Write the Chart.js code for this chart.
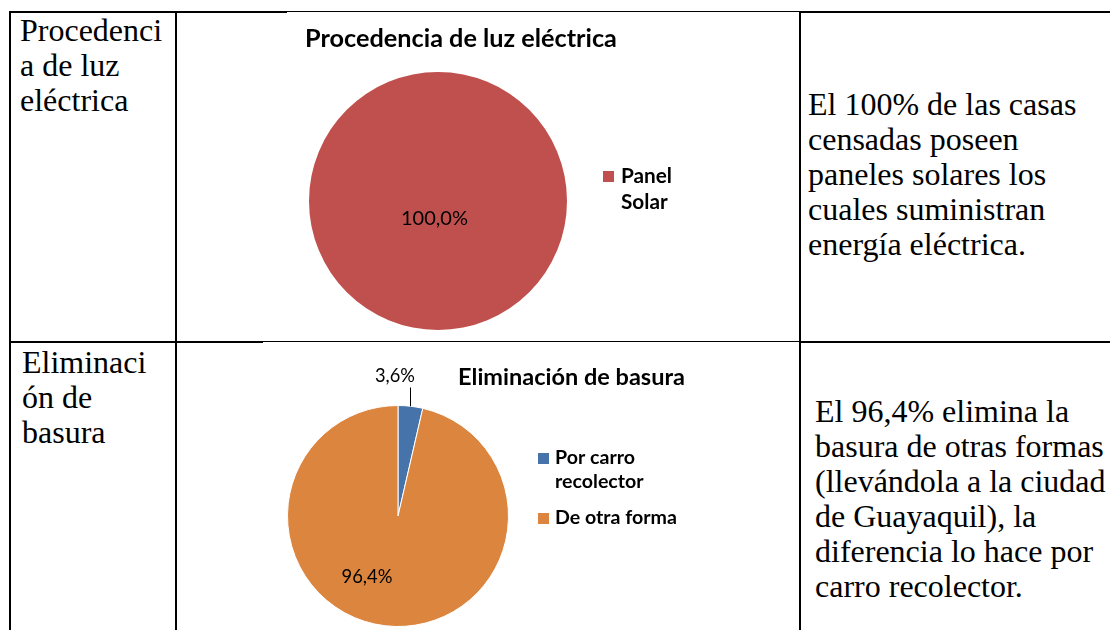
<!DOCTYPE html>
<html><head><meta charset="utf-8">
<script src="https://cdn.jsdelivr.net/npm/chart.js@4.4.0/dist/chart.umd.min.js"></script>
<style>
html,body{margin:0;padding:0;background:#fff;width:1110px;height:630px;overflow:hidden;}
body{position:relative;}
.ln{position:absolute;background:#000;}
.txt{position:absolute;font-family:"Liberation Serif","Times New Roman",serif;font-size:32px;line-height:35px;color:#000;white-space:nowrap;}
canvas{position:absolute;}
</style></head><body>
<!-- table borders -->
<div class="ln" style="left:9px;top:11px;width:278px;height:2px"></div>
<div class="ln" style="left:287px;top:11px;width:513px;height:1px"></div>
<div class="ln" style="left:800px;top:11px;width:310px;height:2px"></div>
<div class="ln" style="left:9px;top:11px;width:2px;height:619px"></div>
<div class="ln" style="left:175px;top:11px;width:2px;height:619px"></div>
<div class="ln" style="left:799px;top:11px;width:2px;height:619px"></div>
<div class="ln" style="left:9px;top:341px;width:254px;height:2px"></div>
<div class="ln" style="left:263px;top:341px;width:537px;height:1px"></div>
<div class="ln" style="left:800px;top:341px;width:310px;height:2px"></div>

<div class="txt" id="t1" style="left:20px;top:13px"></div>
<div class="txt" id="t2" style="left:22px;top:345px"></div>
<div class="txt" id="t3" style="left:808px;top:87px"></div>
<div class="txt" id="t4" style="left:815px;top:394px"></div>

<canvas id="c1" width="622" height="328" style="left:177px;top:13px;width:622px;height:328px"></canvas>
<canvas id="c2" width="622" height="287" style="left:177px;top:343px;width:622px;height:287px"></canvas>

<script>
// ---------- data ----------
const luzTitle = "Procedencia de luz eléctrica";
const luzCategories = [["Panel", "Solar"]];
const luzValues = [100.0];
const luzColors = ["#C0504D"];

const basuraTitle = "Eliminación de basura";
const basuraCategories = [["Por carro", "recolector"], ["De otra forma"]];
const basuraValues = [3.6, 96.4];
const basuraColors = ["#4673A9", "#DC853E"];

const leftTexts1 = ["Procedenci", "a de luz", "eléctrica"];
const leftTexts2 = ["Eliminaci", "ón de", "basura"];
const rightTexts1 = ["El 100% de las casas", "censadas poseen", "paneles solares los", "cuales suministran", "energía eléctrica."];
const rightTexts2 = ["El 96,4% elimina la", "basura de otras formas", "(llevándola a la ciudad", "de Guayaquil), la", "diferencia lo hace por", "carro recolector."];

function setLines(id, lines){ document.getElementById(id).innerHTML = lines.map(s => s.replace(/&/g,'&amp;').replace(/</g,'&lt;')).join('<br>'); }
setLines('t1', leftTexts1); setLines('t2', leftTexts2);
setLines('t3', rightTexts1); setLines('t4', rightTexts2);

const FONT = 'Lato, "Open Sans", "Liberation Sans", sans-serif';
function fmt(v){ return v.toFixed(1).replace('.', ',') + '%'; }
function fitSize(ctx, text, weight, width){
  ctx.font = `${weight} 100px ${FONT}`;
  return 100 * width / ctx.measureText(text).width;
}

const decor = {
  id: 'decor',
  afterDatasetsDraw(chart, args, o) {
    const ctx = chart.ctx;
    const meta = chart.getDatasetMeta(0);
    const ds = chart.data.datasets[0];
    ctx.save();
    ctx.textBaseline = 'middle';
    // title
    const ts = fitSize(ctx, o.title, 'bold', o.titleW);
    ctx.font = `bold ${ts}px ${FONT}`;
    ctx.fillStyle = '#000';
    ctx.textAlign = 'center';
    ctx.fillText(o.title, o.titleX, o.titleY);
    // legend
    const ls = fitSize(ctx, o.legendRef, 'bold', o.legendRefW);
    ctx.font = `bold ${ls}px ${FONT}`;
    ctx.textAlign = 'left';
    let y = o.legendY;
    chart.data.labels.forEach((lab, i) => {
      const lines = Array.isArray(lab) ? lab : [lab];
      ctx.fillStyle = ds.backgroundColor[i];
      ctx.fillRect(o.legendX, Math.round(y - o.box/2), o.box, o.box);
      ctx.fillStyle = '#000';
      lines.forEach((t, j) => ctx.fillText(t, o.legendX + o.box + o.gap, y + j*o.lineH));
      y += lines.length*o.lineH + o.itemGap;
    });
    // data labels
    meta.data.forEach((arc, i) => {
      const p = arc.getProps(['x','y','startAngle','endAngle','outerRadius'], true);
      const spec = o.labels[i];
      const txt = fmt(ds.data[i]);
      const s = fitSize(ctx, txt, 'normal', spec.w);
      ctx.font = `${s}px ${FONT}`;
      ctx.fillStyle = '#000';
      ctx.textAlign = 'center';
      if (spec.lead) {
        const mid = (p.startAngle + p.endAngle)/2;
        const ex = p.x + p.outerRadius*Math.cos(mid), ey = p.y + p.outerRadius*Math.sin(mid);
        const ly = p.y - p.outerRadius - spec.lead;
        ctx.strokeStyle = '#000'; ctx.lineWidth = 1;
        ctx.beginPath(); ctx.moveTo(Math.round(ex)+0.5, ey); ctx.lineTo(Math.round(ex)+0.5, ly); ctx.stroke();
      }
      ctx.fillText(txt, p.x + spec.dx, p.y + spec.dy);
    });
    ctx.restore();
  }
};

function makePie(id, labels, values, colors, bw, padding, deco){
  return new Chart(document.getElementById(id), {
    type: 'pie',
    data: { labels: labels, datasets: [{ data: values, backgroundColor: colors, borderWidth: bw, borderColor: '#fff' }] },
    options: {
      responsive: false, animation: false, devicePixelRatio: 1, events: [],
      layout: { padding: padding },
      plugins: { legend: {display:false}, title:{display:false}, tooltip:{enabled:false}, decor: deco }
    },
    plugins: [decor]
  });
}

makePie('c1', luzCategories, luzValues, luzColors, 0,
  {left:132, right:232, top:59, bottom:11},
  { title: luzTitle, titleW: 312, titleX: 284, titleY: 25.5,
    legendRef: "Panel", legendRefW: 51, legendX: 426, legendY: 163, box: 11, gap: 7, lineH: 26, itemGap: 12,
    labels: [{ w: 67, dx: -3.5, dy: 18 }] });

makePie('c2', basuraCategories, basuraValues, basuraColors, 1,
  {left:110, right:290, top:62, bottom:3},
  { title: basuraTitle, titleW: 227, titleX: 394.5, titleY: 34,
    legendRef: "De otra forma", legendRefW: 122, legendX: 361, legendY: 115, box: 11, gap: 6, lineH: 24, itemGap: 12,
    labels: [{ w: 40, dx: -3, dy: -140, lead: 18 }, { w: 51, dx: -31, dy: 61 }] });
</script>
</body></html>
